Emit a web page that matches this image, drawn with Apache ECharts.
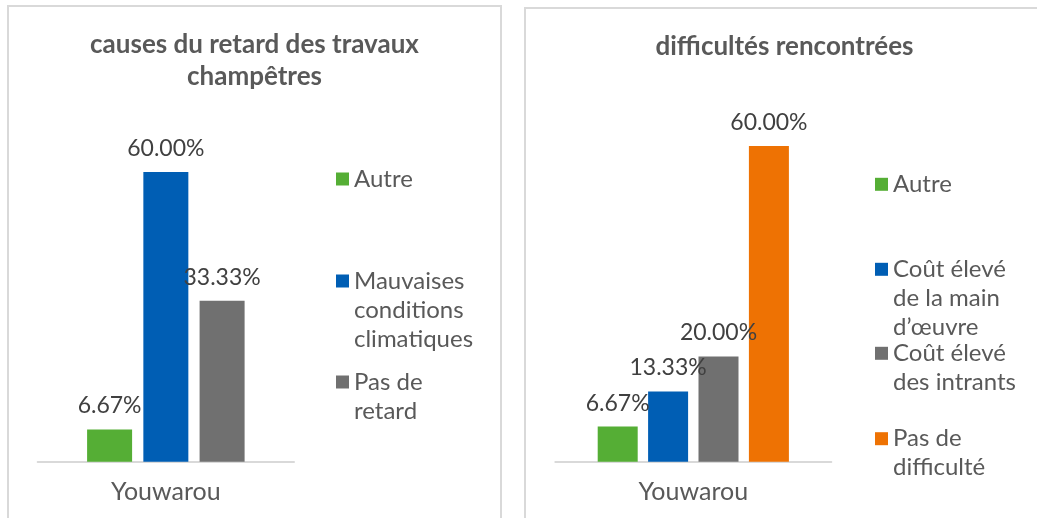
<!DOCTYPE html>
<html>
<head>
<meta charset="utf-8">
<script src="https://cdn.jsdelivr.net/npm/echarts@6/dist/echarts.min.js"></script>
<style>
  html, body { margin: 0; padding: 0; background: #fff; overflow: hidden; }
  .panel { position: absolute; border: 2px solid #d9d9d9; background: #fff; }
  #panel_left { left: 7px; top: 5px; width: 491px; height: 530px; }
  #panel_right { left: 524px; top: 7px; width: 517px; height: 530px; }
  .chart { width: 100%; height: 100%; }
</style>
</head>
<body>
<div class="panel" id="panel_left"><div class="chart" id="chart_retard"></div></div>
<div class="panel" id="panel_right"><div class="chart" id="chart_difficultes"></div></div>
<script>
  // données
  const categories = ["Youwarou"];

  const retardNames = ["Autre", "Mauvaises conditions climatiques", "Pas de retard"];
  const retardValues = [6.67, 60.00, 33.33];
  const retardLegend = ["Autre", "Mauvaises\nconditions\nclimatiques", "Pas de\nretard"];

  const diffNames = ["Autre", "Coût élevé de la main d’œuvre", "Coût élevé des intrants", "Pas de difficulté"];
  const diffValues = [6.67, 13.33, 20.00, 60.00];
  const diffLegend = ["Autre", "Coût élevé\nde la main\nd’œuvre", "Coût élevé\ndes intrants", "Pas de\ndifficulté"];

  const LH = 29; // hauteur de ligne de la légende

  const buildOption = (cfg) => {
    const series = cfg.names.map((name, i) => ({
      name: name,
      type: "bar",
      barWidth: cfg.barWidth,
      barGap: cfg.barGap,
      itemStyle: { color: cfg.colors[i] },
      label: {
        show: true,
        position: "top",
        distance: 12,
        color: "#404040",
        fontFamily: "Lato",
        fontSize: 23,
        formatter: (p) => p.value.toFixed(2) + "%",
      },
      data: [cfg.values[i]],
    }));

    // une légende par entrée ; des lignes vides en tête pour caler
    // le carré sur la première ligne du texte
    const legends = cfg.names.map((name, i) => {
      const n = cfg.legendText[i].split("\n").length;
      return {
        orient: "vertical",
        left: cfg.legendLeft,
        top: cfg.legendCenters[i] - ((2 * n - 1) * LH) / 2,
        padding: 0,
        itemWidth: 13,
        itemHeight: 13,
        selectedMode: false,
        icon: "rect",
        formatter: () => "\n".repeat(n - 1) + cfg.legendText[i],
        textStyle: {
          color: "#595959",
          fontFamily: "Lato",
          fontSize: 24,
          lineHeight: LH,
        },
        data: [name],
      };
    });

    return {
      animation: false,
      title: {
        text: cfg.title,
        left: "center",
        top: cfg.titleTop,
        padding: 0,
        textStyle: {
          color: "#595959",
          fontFamily: "Lato",
          fontWeight: "bold",
          fontSize: 26,
          lineHeight: 32,
        },
      },
      legend: legends,
      grid: cfg.grid,
      xAxis: {
        type: "category",
        data: categories,
        axisTick: { show: false },
        axisLine: { lineStyle: { color: "#d9d9d9", width: 2 } },
        axisLabel: {
          color: "#595959",
          fontFamily: "Lato",
          fontSize: 25,
          margin: 18,
        },
      },
      yAxis: {
        type: "value",
        min: 0,
        max: 70,
        show: false,
        splitLine: { show: false },
      },
      series: series,
    };
  };

  const chartLeft = echarts.init(document.getElementById("chart_retard"));
  chartLeft.setOption(buildOption({
    title: "causes du retard des travaux\nchampêtres",
    titleTop: 22,
    names: retardNames,
    values: retardValues,
    legendText: retardLegend,
    colors: ["#55ae35", "#005eb4", "#707070"],
    barWidth: 45,
    barGap: "25%",
    grid: { left: 28.7, top: 116.7, width: 256.3, height: 338 },
    legendLeft: 327,
    legendCenters: [172, 274, 375],
  }));

  const chartRight = echarts.init(document.getElementById("chart_difficultes"));
  chartRight.setOption(buildOption({
    title: "difficultés rencontrées",
    titleTop: 22,
    names: diffNames,
    values: diffValues,
    legendText: diffLegend,
    colors: ["#55ae35", "#005eb4", "#707070", "#ee7203"],
    barWidth: 40,
    barGap: "26%",
    grid: { left: 29.3, top: 84.4, width: 276, height: 368.3 },
    legendLeft: 349,
    legendCenters: [175.3, 260.3, 344.3, 429.7],
  }));

  window.addEventListener("resize", () => {
    chartLeft.resize();
    chartRight.resize();
  });
</script>
</body>
</html>
